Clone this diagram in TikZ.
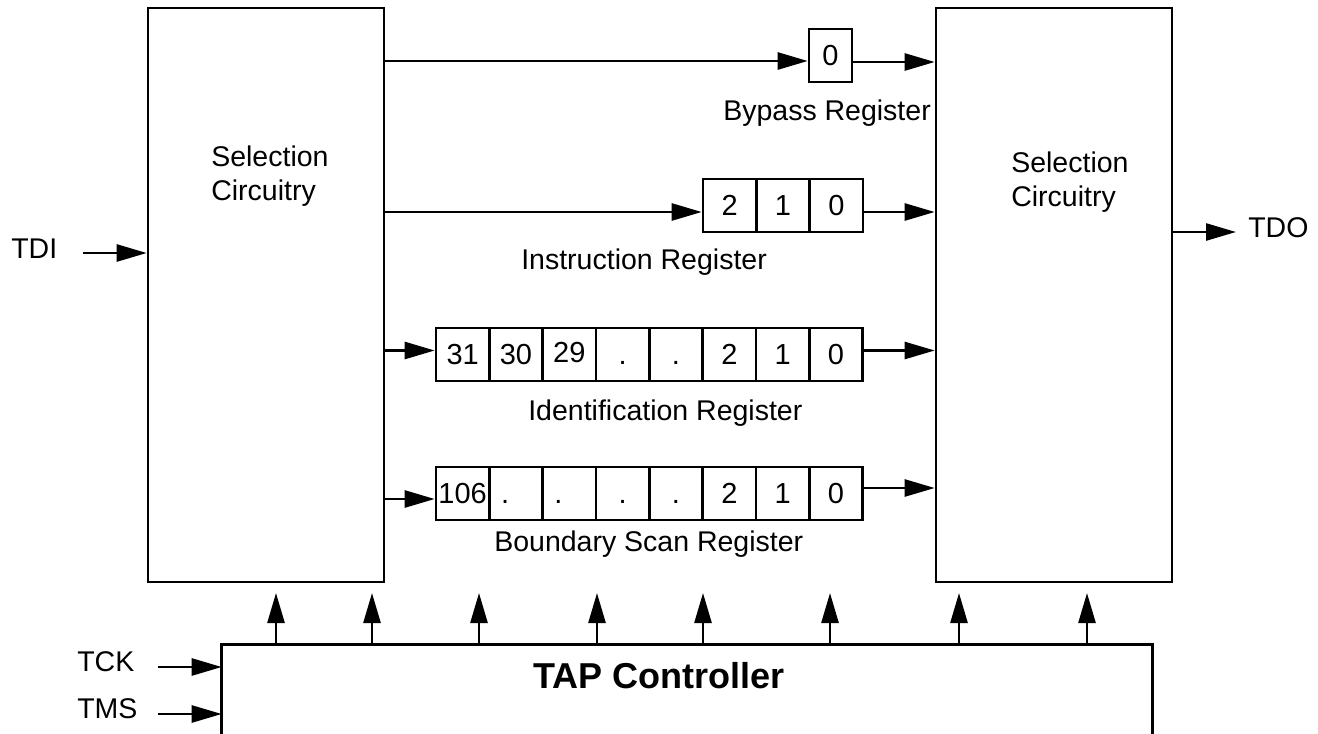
\documentclass[tikz,border=0pt]{standalone}
\usepackage{fontspec}
\setmainfont{Liberation Sans}
\usetikzlibrary{arrows.meta}
\begin{document}
\begin{tikzpicture}[x=1pt,y=-1pt,
  line width=2.6pt,
  arr/.style={-{Triangle[length=30pt,width=17pt]}},
  bigbox/.style={draw,minimum width=236pt,minimum height=574pt,inner sep=0pt},
  cell/.style={draw,minimum width=53.33pt,minimum height=53pt,inner sep=0pt,
    font=\fontsize{29}{34}\selectfont,execute at begin node={\vphantom{0}}},
  lbl/.style={inner sep=0pt,anchor=base west,font=\fontsize{28.5}{34}\selectfont},
]
\fill[white] (0,0) rectangle (1318,734);
\useasboundingbox (0,0) rectangle (1318,734);

% selection boxes
\node[bigbox] (lsel) at (266,295) {};
\node[bigbox] (rsel) at (1054,295) {};
\node[lbl] (lselt1) at (210,166) {Selection};
\node[lbl] (lselt2) at (210,200) {Circuitry};
\node[lbl] (rselt1) at (1010,172) {Selection};
\node[lbl] (rselt2) at (1010,206) {Circuitry};

% TAP controller
\node[minimum width=928pt,minimum height=88pt,inner sep=0pt] (tap) at (687,690) {};
\draw (tap.south west) -- (tap.north west) -- (tap.north east) -- (tap.south east);
\node[inner sep=0pt,anchor=base west,font=\fontsize{36}{42}\selectfont\bfseries] (taptxt) at (532,688) {TAP Controller};

% bypass register
\node[cell,minimum width=43pt] (byp) at (830.5,55.5) {0};
\node[lbl] (bypt) at (722,120) {Bypass Register};

% instruction register
\node[cell] (ir2) at (729.67,205.5) {2};
\node[cell] (ir1) at (783,205.5) {1};
\node[cell] (ir0) at (836.33,205.5) {0};
\node[lbl] (irt) at (520,269) {Instruction Register};

% identification register
\node[cell] (id31) at (462.67,354.5) {31};
\node[cell] (id30) at (516,354.5) {30};
\node[cell] (id29) at (569.33,354.5) {\raisebox{3pt}{29}};
\node[cell] (idd1) at (622.67,354.5) {.};
\node[cell] (idd2) at (676,354.5) {.};
\node[cell] (id2) at (729.33,354.5) {2};
\node[cell] (id1) at (782.67,354.5) {1};
\node[cell] (id0) at (836,354.5) {0};
\node[lbl] (idt) at (527,420) {Identification Register};

% boundary scan register
\node[cell] (bs106) at (462.67,493.5) {106};
\node[cell] (bsd1) at (516,493.5) {\makebox[30pt][l]{.}};
\node[cell] (bsd2) at (569.33,493.5) {\makebox[30pt][l]{.}};
\node[cell] (bsd3) at (622.67,493.5) {.};
\node[cell] (bsd4) at (676,493.5) {.};
\node[cell] (bs2) at (729.33,493.5) {2};
\node[cell] (bs1) at (782.67,493.5) {1};
\node[cell] (bs0) at (836,493.5) {0};
\node[lbl] (bst) at (493,551) {Boundary Scan Register};

% register connections
\coordinate (bi) at ([yshift=-5.5pt]byp.west);
\coordinate (bo) at ([yshift=-6.5pt]byp.east);
\draw[arr] (bi -| lsel.east) -- (bi);
\draw[arr] (bo) -- (bo -| rsel.west);

\coordinate (ii) at ([yshift=-6.5pt]ir2.west);
\coordinate (io) at ([yshift=-6.5pt]ir0.east);
\draw[arr] (ii -| lsel.east) -- (ii);
\draw[arr] (io) -- (io -| rsel.west);

\coordinate (di) at ([yshift=4pt]id31.west);
\coordinate (do) at ([yshift=4pt]id0.east);
\draw[arr] (di -| lsel.east) -- (di);
\draw[arr] (do) -- (do -| rsel.west);

\coordinate (si) at ([yshift=-5.5pt]bs106.west);
\coordinate (so) at ([yshift=5.5pt]bs0.east);
\draw[arr] (si -| lsel.east) -- (si);
\draw[arr] (so) -- (so -| rsel.west);

% TDI / TDO
\node[lbl] (tdi) at (10,258) {TDI};
\coordinate (tdis) at (83,253);
\draw[arr] (tdis) -- (tdis -| lsel.west);
\node[lbl] (tdo) at (1247,237) {TDO};
\coordinate (tdoe) at (1236,232);
\draw[arr] (tdoe -| rsel.east) -- (tdoe);

% TCK / TMS
\node[lbl] (tck) at (76,671) {TCK};
\coordinate (tcks) at (158,667);
\draw[arr] (tcks) -- (tcks -| tap.west);
\node[lbl] (tms) at (76,718) {TMS};
\coordinate (tmss) at (158,714);
\draw[arr] (tmss) -- (tmss -| tap.west);

% control arrows
\foreach \i/\xx in {1/276,2/372,3/479,4/597,5/703,6/830,7/959,8/1087}{
  \coordinate (up\i) at (\xx,593);
  \draw[arr] (up\i |- tap.north) -- (up\i);
}
\end{tikzpicture}
\end{document}
